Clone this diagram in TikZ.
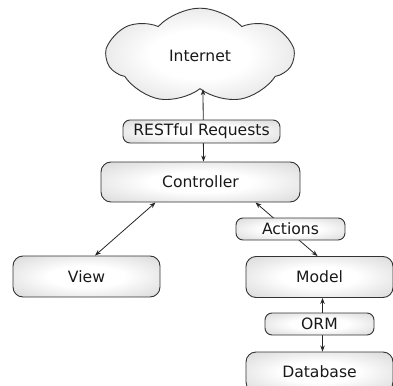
\documentclass[tikz,border=0pt]{standalone}
\usepackage{fontspec}
\setmainfont{DejaVu Sans}
\usetikzlibrary{shapes.symbols,arrows.meta,calc}
% soft radial fill: white core fading to light grey at the rim
\pgfdeclareradialshading{softglow}{\pgfpoint{0bp}{0bp}}{%
  color(0bp)=(white); color(13bp)=(white); color(25bp)=(black!8);
  color(36bp)=(black!15); color(50bp)=(black!15)}
\begin{document}
\begin{tikzpicture}[x=1pt,y=-1pt,
  label font/.style={font=\fontsize{15.6}{18}\selectfont, text=black!90},
  shade fill/.style={shading=softglow},
  box/.style={draw=black!80, line width=0.9pt, rounded corners=10pt, shade fill,
    minimum width=147pt, minimum height=41pt, inner sep=0pt, label font},
  tag/.style={box, rounded corners=7pt, minimum width=109pt, minimum height=22pt},
  tip/.tip={Stealth[length=6pt,width=4.5pt]},
  link/.style={draw=black!85, line width=0.8pt, tip-tip}
]
\clip (0,0) rectangle (393,385);

% main components
\node[cloud, cloud puffs=7, cloud puff arc=95, shape border rotate=-77,
      draw=black!80, line width=0.9pt,
      shade fill, minimum width=186pt, minimum height=92pt, inner sep=0pt,
      label font] (internet) at (200,56) {Internet};
\node[box, minimum width=199pt, minimum height=40pt] (controller) at (200.5,182) {Controller};
\node[box] (view) at (86.5,276.5) {View};
\node[box] (model) at (319.5,277) {Model};
\node[box, minimum height=40pt] (database) at (319.5,372) {Database};

% connectors
\draw[link] ([xshift=3pt]internet.south) -- ([xshift=3pt]controller.north);
\draw[link] ([xshift=8.5pt]view.north) -- ([xshift=-45pt]controller.south);
\draw[link] ([xshift=55pt]controller.south) -- ([xshift=-2pt]model.north);
\draw[link] ([xshift=3pt]model.south) -- ([xshift=3pt]database.north);

% labels sitting on the connectors
\node[tag, minimum width=157pt, minimum height=23pt] (rest) at (201.5,131.5) {RESTful Requests};
\node[tag] (actions) at (290.5,229) {Actions};
\node[tag] (orm) at (319.5,324) {ORM};
\end{tikzpicture}
\end{document}
